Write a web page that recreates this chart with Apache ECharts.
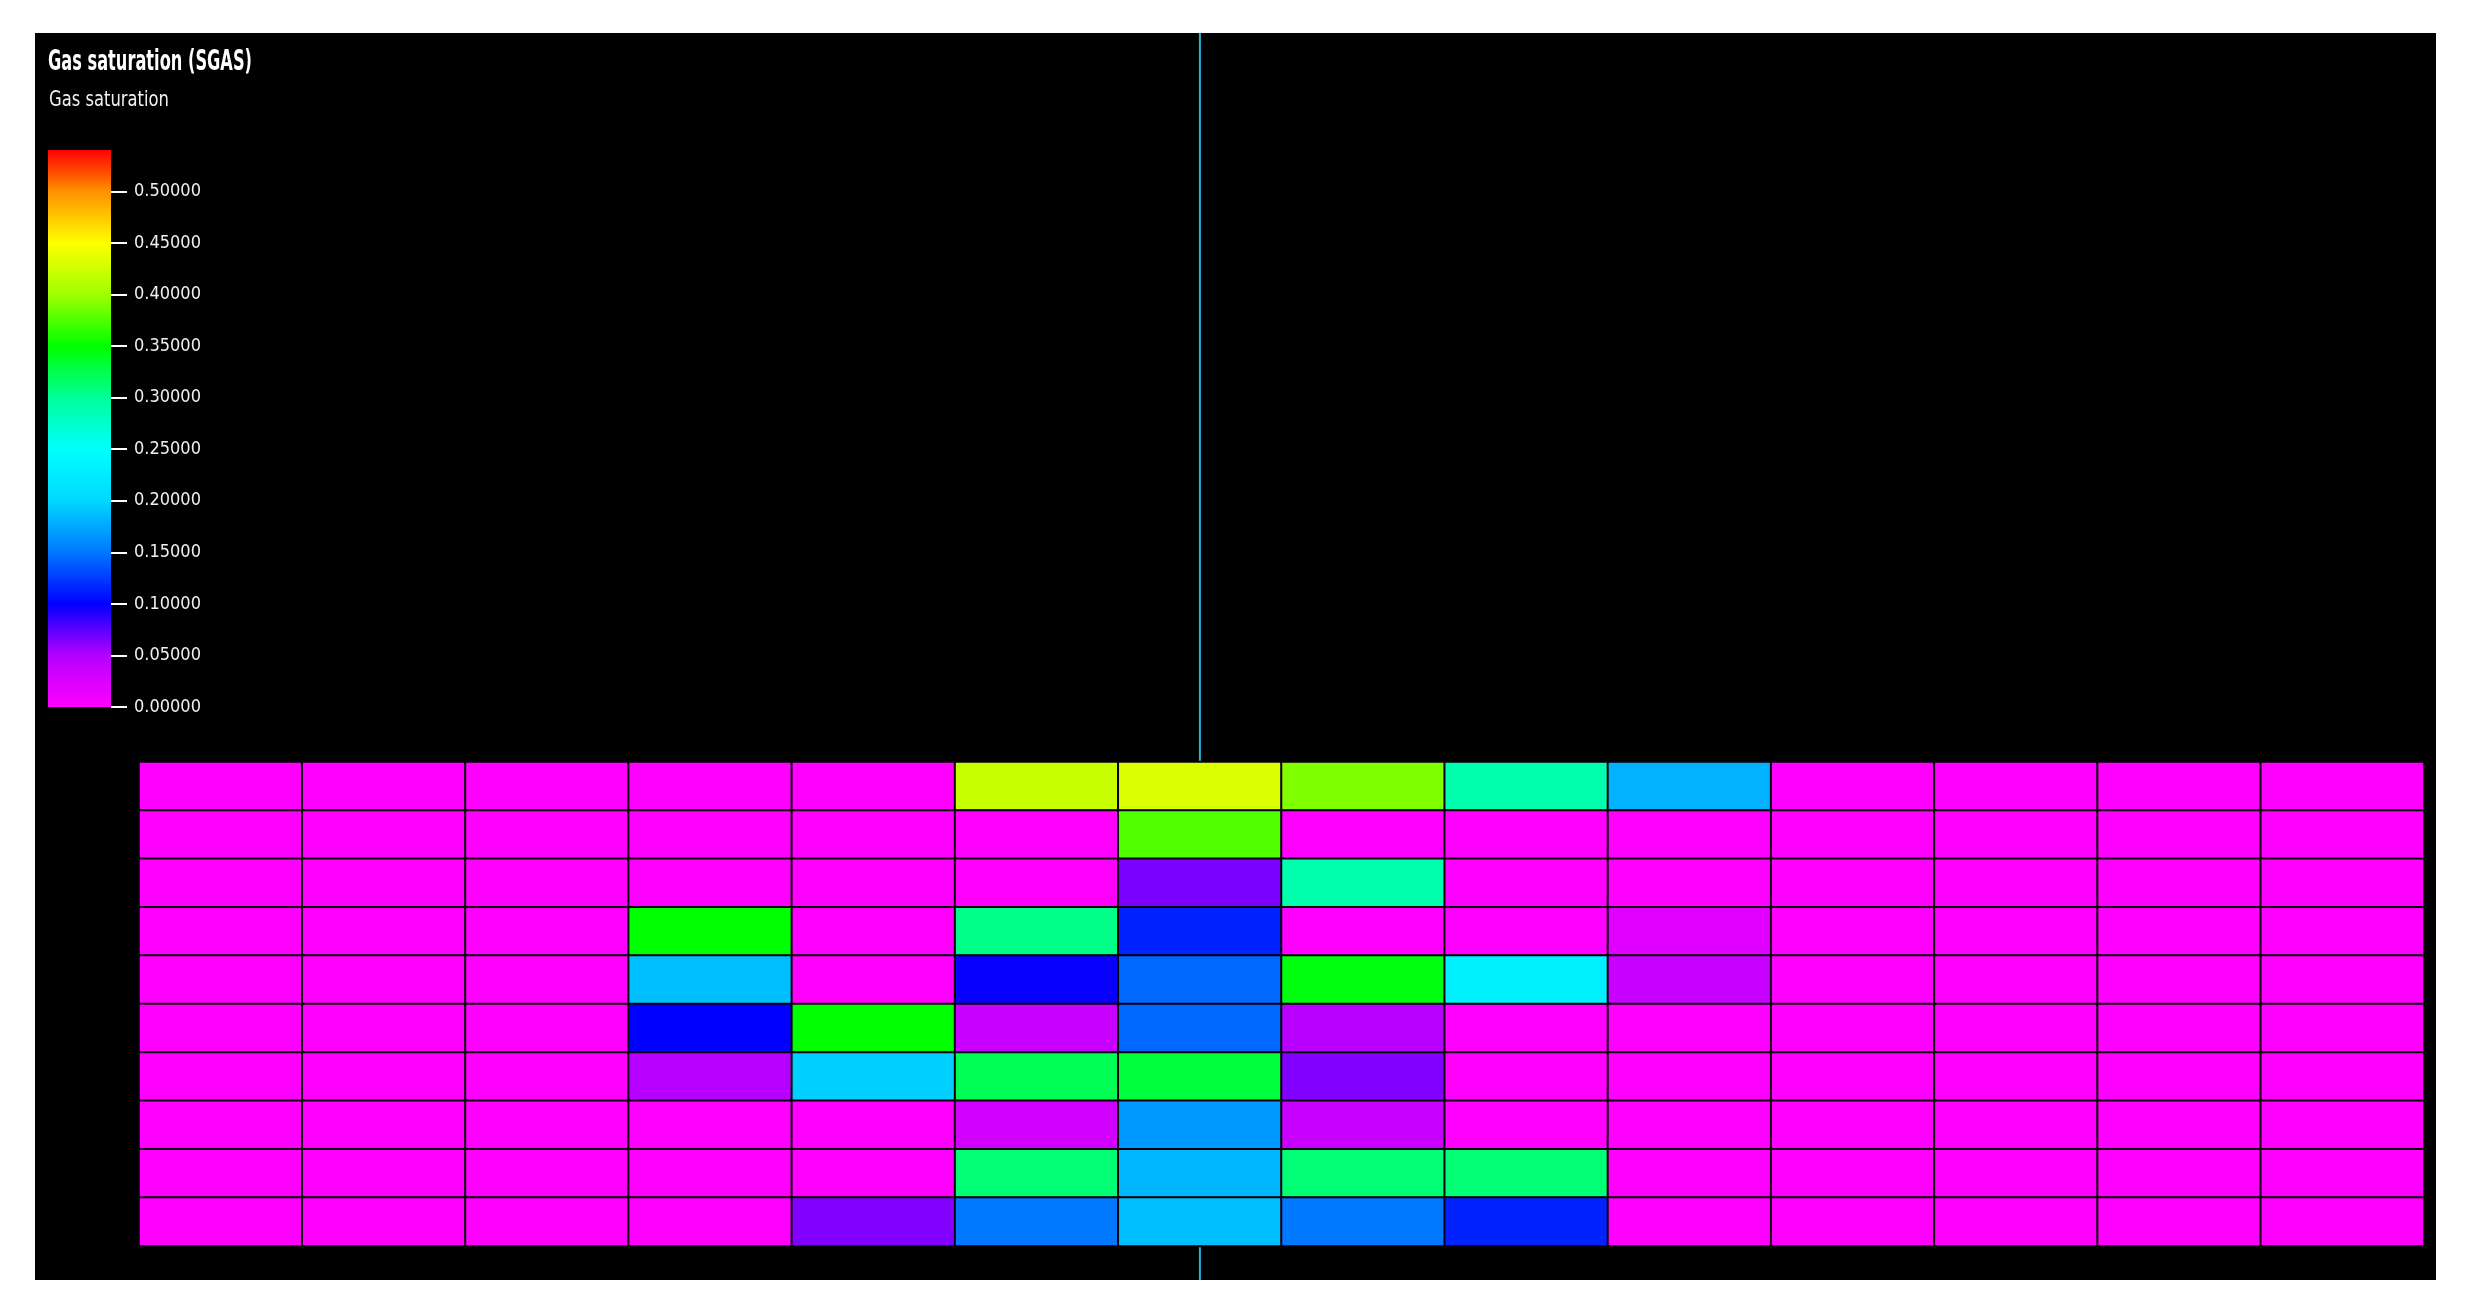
<!DOCTYPE html>
<html>
<head>
<meta charset="utf-8">
<script src="https://cdn.jsdelivr.net/npm/echarts@6/dist/echarts.min.js"></script>
<style>
html,body{margin:0;padding:0;background:#ffffff;}
#c{width:2471px;height:1311px;}
</style>
</head>
<body>
<div id="c"></div>
<script>
// ---------------- data ----------------
const titleText = 'Gas saturation (SGAS)';
const subtitleText = 'Gas saturation';

// grid columns (I) and layers (K), layer 1 on top
const columns = ['1','2','3','4','5','6','7','8','9','10','11','12','13','14'];
const layers = ['1','2','3','4','5','6','7','8','9','10'];

// SGAS per layer, one value per column
const sgasLayer1  = [0,0,0,0,0,0.421,0.430,0.390,0.290,0.180,0,0,0,0];
const sgasLayer2  = [0,0,0,0,0,0,0.375,0,0,0,0,0,0,0];
const sgasLayer3  = [0,0,0,0,0,0,0.066,0.290,0,0,0,0,0,0];
const sgasLayer4  = [0,0,0,0.350,0,0.305,0.114,0,0,0.020,0,0,0,0];
const sgasLayer5  = [0,0,0,0.187,0,0.098,0.143,0.345,0.232,0.037,0,0,0,0];
const sgasLayer6  = [0,0,0,0.100,0.350,0.037,0.143,0.048,0,0,0,0,0,0];
const sgasLayer7  = [0,0,0,0.048,0.196,0.322,0.330,0.064,0,0,0,0,0,0];
const sgasLayer8  = [0,0,0,0,0,0.031,0.167,0.037,0,0,0,0,0,0];
const sgasLayer9  = [0,0,0,0,0,0.312,0.183,0.312,0.312,0,0,0,0,0];
const sgasLayer10 = [0,0,0,0,0.064,0.150,0.187,0.150,0.114,0,0,0,0,0];

// colour bar tick labels
const colorbarTicks = [0,0.05,0.10,0.15,0.20,0.25,0.30,0.35,0.40,0.45,0.50];
const colorbarMax = 0.54;

// colour scale: value stops and colours
const colorStopValues = [0,0.05,0.10,0.15,0.20,0.25,0.30,0.35,0.40,0.45,0.50,0.55];
const colorStopColors = ['#ff00ff','#b400ff','#0000ff','#0078ff','#00d8ff','#00ffff',
                         '#00ff98','#00ff00','#a0ff00','#ffff00','#ff9000','#ff0000'];

// ---------------- build ----------------
const sgasLayers = [sgasLayer1,sgasLayer2,sgasLayer3,sgasLayer4,sgasLayer5,
                    sgasLayer6,sgasLayer7,sgasLayer8,sgasLayer9,sgasLayer10];
const cells = [];
sgasLayers.forEach(function (row, k) {
  row.forEach(function (v, i) { cells.push([i, k, v]); });
});

const gradStops = colorStopValues.map(function (v, i) {
  return { offset: Math.max(0, Math.min(1, 1 - v / colorbarMax)), color: colorStopColors[i] };
}).sort(function (a, b) { return a.offset - b.offset; });

const FONT_FAMILY = '"Liberation Sans Narrow","DejaVu Sans Condensed","Liberation Sans",sans-serif';
function textScale(font, text, target) {
  const ctx = document.createElement('canvas').getContext('2d');
  ctx.font = font;
  const w = ctx.measureText(text).width;
  return w > 0 ? target / w : 1;
}
const titleFont = 'bold 29px ' + FONT_FAMILY;
const subFont = '22px ' + FONT_FAMILY;
const titleScale = textScale(titleFont, titleText, 204);
const subScale = textScale(subFont, subtitleText, 120);

const chart = echarts.init(document.getElementById('c'), null, { renderer: 'canvas' });

const baseGraphic = [
  { id: 'panel', type: 'rect', z: -10, silent: true,
    shape: { x: 35, y: 33, width: 2401, height: 1247 }, style: { fill: '#000000' } },
  { id: 'title', type: 'text', x: 48, y: 62, scaleX: titleScale, z: 10, silent: true,
    style: { text: titleText, font: titleFont, fill: '#ffffff',
             textAlign: 'left', align: 'left', textVerticalAlign: 'middle', verticalAlign: 'middle' } },
  { id: 'subtitle', type: 'text', x: 49, y: 100, scaleX: subScale, z: 10, silent: true,
    style: { text: subtitleText, font: subFont, fill: '#f0f0f0',
             textAlign: 'left', align: 'left', textVerticalAlign: 'middle', verticalAlign: 'middle' } }
];

chart.setOption({
  backgroundColor: '#ffffff',
  animation: false,
  graphic: baseGraphic,
  grid: [
    { left: 139, top: 762, width: 2285, height: 484 },
    { left: 48, top: 150, width: 63, height: 557 }
  ],
  xAxis: [
    { type: 'category', gridIndex: 0, data: columns, show: false },
    { type: 'category', gridIndex: 1, data: ['SGAS'], show: false }
  ],
  yAxis: [
    { type: 'category', gridIndex: 0, data: layers, inverse: true, show: false },
    { type: 'value', gridIndex: 1, position: 'right', min: 0, max: colorbarMax, interval: 0.05, z: 5,
      axisLine: { show: false },
      splitLine: { show: false },
      axisTick: { show: true, inside: false, length: 16, customValues: colorbarTicks,
                  lineStyle: { color: '#ffffff', width: 2 } },
      axisLabel: { show: true, customValues: colorbarTicks, margin: 23, color: '#f0f0f0',
                   fontSize: 18, fontFamily: FONT_FAMILY,
                   formatter: function (v) { return Number(v).toFixed(5); } } }
  ],
  visualMap: {
    type: 'continuous', show: false, seriesIndex: 0,
    min: colorStopValues[0], max: colorStopValues[colorStopValues.length - 1],
    inRange: { color: colorStopColors }
  },
  series: [
    { type: 'heatmap', xAxisIndex: 0, yAxisIndex: 0, data: cells, z: 2,
      itemStyle: { borderColor: '#0a000a', borderWidth: 2 },
      emphasis: { disabled: true }, progressive: 0 },
    { type: 'bar', xAxisIndex: 1, yAxisIndex: 1, data: [colorbarMax], barWidth: '100%', z: 2,
      silent: true,
      itemStyle: { color: new echarts.graphic.LinearGradient(0, 0, 0, 1, gradStops) } }
  ]
});

// vertical section line through the centre of column 7, drawn beneath the cells
const lineX = chart.convertToPixel({ xAxisIndex: 0 }, 6);
chart.setOption({
  graphic: baseGraphic.concat([
    { id: 'wellLine', type: 'line', z: 1, silent: true,
      shape: { x1: lineX, y1: 33, x2: lineX, y2: 1280 },
      style: { stroke: '#24b4e0', lineWidth: 2 } }
  ])
});
</script>
</body>
</html>
